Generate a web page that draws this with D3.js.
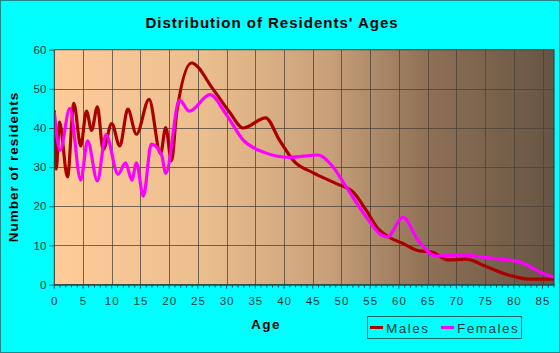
<!DOCTYPE html>
<html><head><meta charset="utf-8">
<script src="https://cdn.jsdelivr.net/npm/d3@7"></script>
<style>body{margin:0;background:#fff}svg{display:block}</style>
</head><body>
<svg id="c" width="560" height="353"></svg>
<script>
const title = "Distribution of Residents' Ages";
const xLabel = "Age", yLabel = "Number of residents";
const xTicks = [0,5,10,15,20,25,30,35,40,45,50,55,60,65,70,75,80,85];
const yTicks = [0,10,20,30,40,50,60];
const seriesNames = ["Males","Females"];
const seriesColors = ["#AA0000","#FF00FF"];

const maleAges = [0,0.35,0.9,2.3,3.4,4.6,5.6,6.5,7.5,8.5,10,11.4,12.8,14.3,16.5,18.5,19.4,20.4,21.3,23.9,27.6,30.5,32.9,36.8,39.2,41.8,45,49.1,52,54.3,56.3,58.3,60.7,63.6,65.6,68.5,71.7,75.2,79.2,82.7,87];
const maleValues = [44.5,29.5,41.5,27.5,46.3,35.4,44.3,39.4,45.4,34.5,41.1,35.4,44.8,38.4,47.3,33.5,40.1,31.6,43.8,56.6,50,44.1,40,42.6,36.9,31.4,28.6,25.8,23.7,19,14.4,12.1,10.5,8.6,8.4,6.3,6.5,4.6,2.4,1.4,1.4];

const femaleAges = [0,1.0,2.7,4.6,5.8,7.5,9.0,11.1,12.4,13.5,14.3,15.5,16.9,18.7,19.4,21.8,23.5,27.1,30,32.9,36.3,41,45.9,48.5,50.8,54.3,56.9,58,60.7,63.3,66.5,70.5,76.3,81,85,87];
const femaleValues = [44.1,34.3,45,26.7,36.7,26.5,38.3,28.2,31.1,26.7,31.1,22.6,35.9,33,28.4,47.1,44.3,48.5,43.3,36.9,33.9,32.5,33.1,30.1,25,17.3,12.7,12.2,17.2,11.4,7.3,7.6,6.7,5.8,2.9,1.9];

const svg = d3.select("#c");
const W = 560, H = 353;
const m = {l:54.3, r:554, t:49.7, b:284.6};
const x = d3.scaleLinear().domain([0,87]).range([m.l, m.r]);
const y = d3.scaleLinear().domain([0,60]).range([m.b, m.t]);

svg.append("rect").attr("x",0.5).attr("y",0.5).attr("width",W-1).attr("height",H-1)
  .attr("fill","#00FFFF").attr("stroke","#228888").attr("stroke-width",1);

const defs = svg.append("defs");
const g = defs.append("linearGradient").attr("id","bg").attr("x1","0").attr("x2","1").attr("y1","0").attr("y2","0");
[[0,"#FFCC99"],[0.3,"#EBBE8E"],[0.55,"#C8A07A"],[0.75,"#8E7055"],[1,"#665544"]].forEach(s=>
  g.append("stop").attr("offset",s[0]).attr("stop-color",s[1]));

svg.append("rect").attr("x",m.l).attr("y",m.t).attr("width",m.r-m.l).attr("height",m.b-m.t).attr("fill","url(#bg)");

// grid
svg.append("g").selectAll("line").data(xTicks.filter(d=>d>0)).join("line")
  .attr("x1",d=>Math.round(x(d))+0.5).attr("x2",d=>Math.round(x(d))+0.5)
  .attr("y1",m.t).attr("y2",m.b).attr("stroke","#4a4038").attr("stroke-opacity",0.75);
svg.append("g").selectAll("line").data(yTicks.filter(d=>d>0 && d<60)).join("line")
  .attr("x1",m.l).attr("x2",m.r)
  .attr("y1",d=>Math.round(y(d))+0.5).attr("y2",d=>Math.round(y(d))+0.5)
  .attr("stroke","#4a4038").attr("stroke-opacity",0.75);

// lines
const line = d3.line().curve(d3.curveMonotoneX).x(d=>x(d[0])).y(d=>y(d[1]));
const clip = defs.append("clipPath").attr("id","pc");
clip.append("rect").attr("x",m.l).attr("y",m.t-5).attr("width",m.r-m.l).attr("height",m.b-m.t+5);
const pl = svg.append("g").attr("clip-path","url(#pc)");
pl.append("path").datum(maleAges.map((a,i)=>[a,maleValues[i]])).attr("d",line)
  .attr("fill","none").attr("stroke",seriesColors[0]).attr("stroke-width",3.2);
pl.append("path").datum(femaleAges.map((a,i)=>[a,femaleValues[i]])).attr("d",line)
  .attr("fill","none").attr("stroke",seriesColors[1]).attr("stroke-width",3.2);
// redraw male on top where it was drawn above? Keep order: males drawn first then females.

// plot border
svg.append("rect").attr("x",m.l).attr("y",m.t).attr("width",m.r-m.l).attr("height",m.b-m.t)
  .attr("fill","none").attr("stroke","#333").attr("stroke-width",1);

// axes
const xAxis = d3.axisBottom(x).tickValues(xTicks).tickSize(0).tickPadding(12);
const xa = svg.append("g").attr("transform",`translate(0,${m.b})`).call(xAxis);
xa.select(".domain").attr("stroke","#1a5555").attr("stroke-width",1.5);
xa.selectAll("text").attr("font-family","Liberation Sans, Arial, sans-serif").attr("font-size",11.5)
  .attr("fill","#103838").attr("letter-spacing","1px");
svg.append("g").selectAll("line").data(d3.range(0,88)).join("line")
  .attr("x1",d=>x(d)).attr("x2",d=>x(d)).attr("y1",m.b).attr("y2",d=>m.b+(d%5===0?4:3))
  .attr("stroke","#1a5555").attr("stroke-width",1);

const yAxis = d3.axisLeft(y).tickValues(yTicks).tickSize(5).tickPadding(3);
const ya = svg.append("g").attr("transform",`translate(${m.l},0)`).call(yAxis);
ya.select(".domain").remove();
ya.selectAll("line").attr("stroke","#1a5555");
ya.selectAll("text").attr("font-family","Liberation Sans, Arial, sans-serif").attr("font-size",11.5)
  .attr("fill","#103838");

// titles
svg.append("text").attr("x",272).attr("y",28).attr("text-anchor","middle")
  .attr("font-family","Liberation Sans, Arial, sans-serif").attr("font-weight","bold")
  .attr("font-size",15).attr("letter-spacing","1px").attr("fill","#000").text(title);
svg.append("text").attr("x",266).attr("y",329).attr("text-anchor","middle")
  .attr("font-family","Liberation Sans, Arial, sans-serif").attr("font-weight","bold")
  .attr("font-size",13.5).attr("letter-spacing","1.5px").attr("fill","#000").text(xLabel);
svg.append("text").attr("transform","translate(18,167) rotate(-90)").attr("text-anchor","middle")
  .attr("font-family","Liberation Sans, Arial, sans-serif").attr("font-weight","bold")
  .attr("font-size",13.5).attr("letter-spacing","1px").attr("fill","#000").text(yLabel);

// legend
const lg = svg.append("g");
lg.append("rect").attr("x",367.5).attr("y",316.5).attr("width",154).attr("height",22)
  .attr("fill","none").attr("stroke","#1a6666").attr("stroke-width",1);
const items = [{n:seriesNames[0],c:seriesColors[0],x:370},{n:seriesNames[1],c:seriesColors[1],x:441}];
items.forEach(it=>{
  lg.append("line").attr("x1",it.x).attr("x2",it.x+13).attr("y1",327.5).attr("y2",327.5)
    .attr("stroke",it.c).attr("stroke-width",3);
  lg.append("text").attr("x",it.x+16).attr("y",332.5).attr("font-family","Liberation Sans, Arial, sans-serif")
    .attr("font-size",13.5).attr("letter-spacing","1.5px").attr("fill","#103838").text(it.n);
});
</script>
</body></html>
